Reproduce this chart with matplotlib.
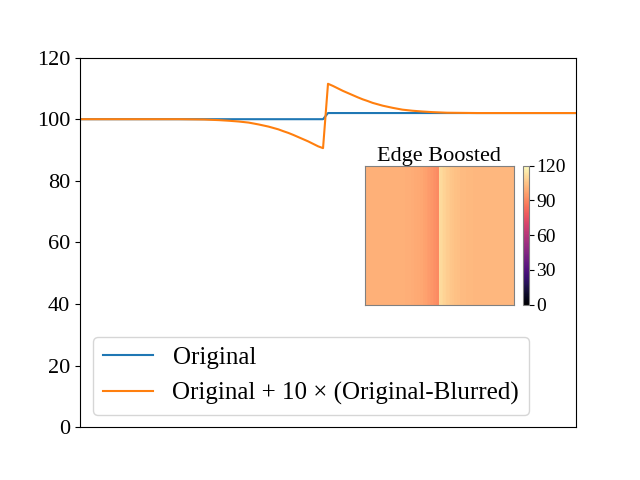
import matplotlib
matplotlib.use("Agg")
import matplotlib.pyplot as plt

plt.rcParams['font.family'] = ['Liberation Serif', 'DejaVu Serif']

# original step profile
x_orig = [0, 49, 50, 100]
y_orig = [100, 100, 102, 102]

# sharpened profile
x_boost = [0, 20, 25, 28, 30, 32, 34, 36, 38, 40, 41, 42, 43, 44, 45, 46, 47, 48, 49,
           50, 51, 52, 53, 54, 55, 56, 57, 58, 59, 61, 63, 65, 67, 69, 71, 74, 77, 80, 90, 100]
y_boost = [100.0, 100.0, 99.9, 99.7, 99.5, 99.25, 98.9, 98.3, 97.6, 96.7, 96.1, 95.55, 94.9,
           94.2, 93.5, 92.8, 92.0, 91.2, 90.6,
           111.5, 110.8, 110.0, 109.2, 108.5, 107.8, 107.1, 106.45, 105.9, 105.3, 104.4,
           103.7, 103.1, 102.75, 102.5, 102.3, 102.1, 102.05, 102.0, 102.0, 102.0]

fig = plt.figure(figsize=(6.4, 4.8), dpi=100)
ax = fig.add_subplot(111)
ax.plot(x_orig, y_orig, label='Original')
ax.plot(x_boost, y_boost, label='Original + 10 × (Original-Blurred)')
ax.set_xlim(0, 100)
ax.set_ylim(0, 120)
ax.set_xticks([])
ax.set_yticks([0, 20, 40, 60, 80, 100, 120])
ax.tick_params(labelsize=16)
ax.legend(loc='lower left', fontsize=18)

# inset image of the boosted profile
iax = fig.add_axes([0.570, 0.365, 0.233, 0.290])
mesh = iax.pcolormesh(x_boost, [0, 1], [y_boost, y_boost], shading='nearest',
                      cmap='magma', vmin=0, vmax=120)
iax.set_xlim(x_boost[0] - 0.5, x_boost[-1] + 0.5)
iax.set_xticks([])
iax.set_yticks([])
for sp in iax.spines.values():
    sp.set_edgecolor('gray')
iax.set_title('Edge Boosted', fontsize=16, pad=1)

cax = fig.add_axes([0.817, 0.365, 0.0094, 0.290])
cb = fig.colorbar(mesh, cax=cax, ticks=[0, 30, 60, 90, 120])
cb.outline.set_edgecolor('gray')
cax.tick_params(labelsize=14, pad=2)

fig.savefig('out.png')
